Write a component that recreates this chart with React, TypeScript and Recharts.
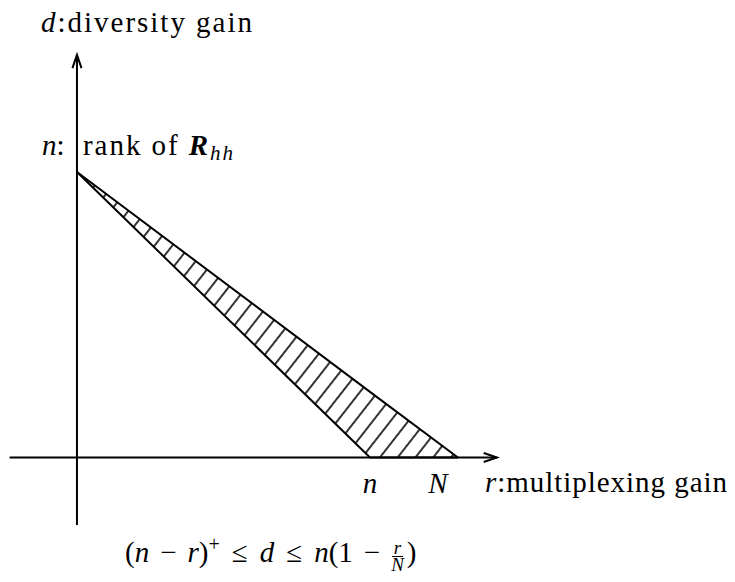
import React from 'react';
import { ComposedChart, Area, XAxis, YAxis, ReferenceLine, ReferenceDot } from 'recharts';

// Rank n of the channel correlation matrix and number of antennas N
const rankN = 3;
const antennasN = 3.9;

// Vertices of the achievable region, by multiplexing gain r
const rVertices = [0, 3, 3.9];
// Lower bound (n - r)^+ and upper bound n(1 - r/N) at each vertex
const lowerBound = [3, 0, 0];
const upperBound = [3, 0.69, 0];

// Extent of the two drawn axes, in data units
const rAxisRange = [-0.69, 4.3];
const dAxisRange = [-0.71, 4.23];

// Labels placed under the r axis
const rTickValues = [rankN, antennasN];
const rTickLabels = ['n', 'N'];
// horizontal nudge of each label, px
const rTickNudge = [0, -20];

const W = 735;
const H = 582;
const FONT = 'Liberation Serif, DejaVu Serif, serif';

const data = rVertices.map((r, i) => ({ r, band: [lowerBound[i], upperBound[i]] }));

// Line with an open arrowhead at (x2, y2)
const ArrowLine = (props: any) => {
  const { x1, y1, x2, y2 } = props;
  const ang = Math.atan2(y2 - y1, x2 - x1);
  const len = 14;
  const spread = 0.33;
  const ax = x2 - len * Math.cos(ang - spread);
  const ay = y2 - len * Math.sin(ang - spread);
  const bx = x2 - len * Math.cos(ang + spread);
  const by = y2 - len * Math.sin(ang + spread);
  return (
    <g>
      <line x1={x1} y1={y1} x2={x2} y2={y2} stroke="#000" strokeWidth={2} />
      <polyline points={`${ax},${ay} ${x2},${y2} ${bx},${by}`} fill="none" stroke="#000" strokeWidth={2} />
    </g>
  );
};

const tickLabel = (text: string, nudge: number) => (p: any) => (
  <text
    x={p.cx + nudge}
    y={p.cy + 35}
    textAnchor="middle"
    style={{ fontFamily: FONT, fontStyle: 'italic', fontSize: 29 }}
    fill="#000"
  >
    {text}
  </text>
);

const it = { fontStyle: 'italic' as const };
const op = { margin: '0 11px' };
const rel = { margin: '0 12px' };

export default function App() {
  return (
    <div style={{ position: 'absolute', left: 0, top: 0, width: W, height: H, background: '#fff' }}>
      <svg width={0} height={0} style={{ position: 'absolute' }}>
        <defs>
          <pattern id="hatch" patternUnits="userSpaceOnUse" width={14} height={14} patternTransform="rotate(38)">
            <line x1={7} y1={0} x2={7} y2={14} stroke="#000" strokeWidth={1.6} />
          </pattern>
        </defs>
      </svg>
      <ComposedChart width={W} height={H} data={data} margin={{ top: 0, right: 0, bottom: 0, left: 0 }}>
        <XAxis dataKey="r" type="number" domain={[-0.788, 6.737]} hide allowDataOverflow />
        <YAxis type="number" domain={[-1.308, 4.807]} hide allowDataOverflow />
        <Area
          type="linear"
          dataKey="band"
          stroke="#000"
          strokeWidth={2}
          fill="url(#hatch)"
          fillOpacity={1}
          dot={false}
          activeDot={false}
          isAnimationActive={false}
        />
        <ReferenceLine
          segment={[{ x: rAxisRange[0], y: 0 }, { x: rAxisRange[1], y: 0 }]}
          shape={ArrowLine}
          ifOverflow="visible"
        />
        <ReferenceLine
          segment={[{ x: 0, y: dAxisRange[0] }, { x: 0, y: dAxisRange[1] }]}
          shape={ArrowLine}
          ifOverflow="visible"
        />
        {rTickValues.map((v, i) => (
          <ReferenceDot
            key={rTickLabels[i]}
            x={v}
            y={0}
            r={0}
            shape={tickLabel(rTickLabels[i], rTickNudge[i])}
            ifOverflow="visible"
          />
        ))}
      </ComposedChart>
      <svg width={W} height={H} style={{ position: 'absolute', left: 0, top: 0, pointerEvents: 'none' }}>
        <g style={{ fontFamily: FONT, fontSize: 29 }} fill="#000">
          <text x={41} y={32} textLength={211} lengthAdjust="spacing">
            <tspan style={it}>d</tspan>
            <tspan>:diversity gain</tspan>
          </text>
          <text x={42} y={155}>
            <tspan style={it}>n</tspan>
            <tspan>:</tspan>
          </text>
          <text x={83} y={155} textLength={150} lengthAdjust="spacing">
            <tspan>rank of </tspan>
            <tspan style={{ fontStyle: 'italic', fontWeight: 'bold' }}>R</tspan>
            <tspan style={{ fontStyle: 'italic', fontSize: 21 }} dy={5}>hh</tspan>
          </text>
          <text x={485} y={492} textLength={242} lengthAdjust="spacing">
            <tspan style={it}>r</tspan>
            <tspan>:multiplexing gain</tspan>
          </text>
        </g>
      </svg>
      <div
        style={{
          position: 'absolute',
          left: 125,
          top: 535,
          fontFamily: FONT,
          fontSize: 29,
          lineHeight: '34px',
          whiteSpace: 'nowrap',
          color: '#000',
        }}
      >
        (<i>n</i>
        <span style={op}>−</span>
        <i>r</i>)<sup style={{ fontSize: 20, verticalAlign: 11, lineHeight: 0 }}>+</sup>
        <span style={rel}>≤</span>
        <i>d</i>
        <span style={rel}>≤</span>
        <i>n</i>(1
        <span style={op}>−</span>
        <span
          style={{
            display: 'inline-flex',
            flexDirection: 'column',
            alignItems: 'center',
            verticalAlign: 8,
            fontSize: 19,
            lineHeight: '14px',
            fontStyle: 'italic',
            marginRight: 3,
          }}
        >
          <span style={{ borderBottom: '1.2px solid #000', padding: '0 2px 1px' }}>r</span>
          <span style={{ lineHeight: '16px' }}>N</span>
        </span>
        )
      </div>
    </div>
  );
}
